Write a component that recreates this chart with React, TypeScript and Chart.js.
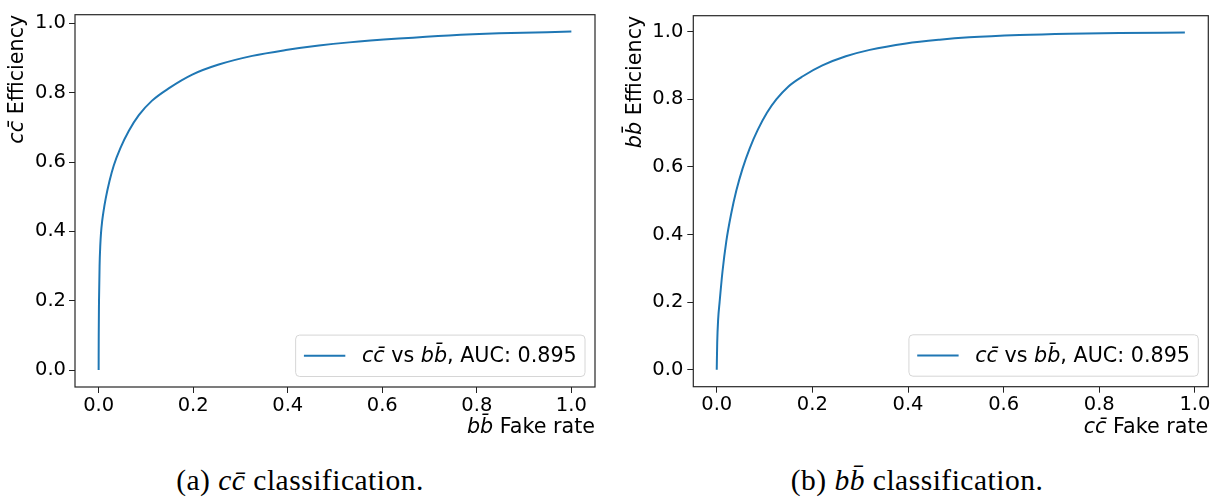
import React, { useEffect, useRef } from 'react';
import { Chart, registerables } from 'chart.js';

Chart.register(...registerables);

const FONT = '"DejaVu Sans", sans-serif';
const FS = 20.7;
const TICK_FS = 19.5;

// Tick values shared by both panels
const tickValues = [0, 0.2, 0.4, 0.6, 0.8, 1.0];

// Panel (a): cc̄ efficiency vs bb̄ fake rate
const bbFakeRate = [0, 0.0002, 0.0008, 0.002, 0.0035, 0.005, 0.0075, 0.01, 0.015, 0.023, 0.032, 0.046, 0.064, 0.085, 0.113, 0.149, 0.198, 0.254, 0.325, 0.396, 0.466, 0.53, 0.635, 0.741, 0.847, 1.0];
const ccEfficiency = [0, 0.1, 0.2, 0.3, 0.36, 0.395, 0.43, 0.455, 0.495, 0.545, 0.59, 0.64, 0.69, 0.735, 0.777, 0.813, 0.852, 0.881, 0.906, 0.923, 0.936, 0.945, 0.956, 0.965, 0.971, 0.976];

// Panel (b): bb̄ efficiency vs cc̄ fake rate
const ccFakeRate = [0, 0.001, 0.003, 0.006, 0.012, 0.02, 0.03, 0.041, 0.054, 0.069, 0.086, 0.105, 0.125, 0.15, 0.18, 0.221, 0.27, 0.32, 0.396, 0.466, 0.528, 0.633, 0.737, 0.842, 0.979];
const bbEfficiency = [0, 0.08, 0.15, 0.2, 0.29, 0.38, 0.46, 0.53, 0.595, 0.655, 0.71, 0.76, 0.8, 0.838, 0.868, 0.9, 0.927, 0.946, 0.965, 0.976, 0.983, 0.99, 0.994, 0.996, 0.997];

type Seg = [string, boolean];
const CC = 'cc\u0304';
const BB = 'bb\u0304';
const legendLabel: Seg[] = [[CC, true], [' vs ', false], [BB, true], [', AUC: 0.895', false]];
const titlesA = { y: [[CC, true], [' Efficiency', false]] as Seg[], x: [[BB, true], [' Fake rate', false]] as Seg[] };
const titlesB = { y: [[BB, true], [' Efficiency', false]] as Seg[], x: [[CC, true], [' Fake rate', false]] as Seg[] };

function segFont(it: boolean, size: number) {
  return `${it ? 'italic ' : ''}${size}px ${FONT}`;
}
function measureRich(ctx: CanvasRenderingContext2D, segs: Seg[], size: number) {
  let w = 0;
  for (const [t, it] of segs) {
    ctx.font = segFont(it, size);
    w += ctx.measureText(t).width;
  }
  return w;
}
function drawRich(ctx: CanvasRenderingContext2D, segs: Seg[], x: number, y: number, size: number) {
  let cx = x;
  for (const [t, it] of segs) {
    ctx.font = segFont(it, size);
    ctx.textAlign = 'left';
    ctx.fillText(t, cx, y);
    cx += ctx.measureText(t).width;
  }
}

const decorPlugin = {
  id: 'decor',
  afterDraw(chart: any, _args: any, opts: any) {
    const ctx: CanvasRenderingContext2D = chart.ctx;
    const a = chart.chartArea;
    ctx.save();
    // frame
    ctx.strokeStyle = '#262626';
    ctx.lineWidth = 1.2;
    ctx.strokeRect(a.left, a.top, a.right - a.left, a.bottom - a.top);

    ctx.fillStyle = '#000';
    ctx.textBaseline = 'alphabetic';
    // x title (right aligned)
    const xw = measureRich(ctx, opts.xTitle, FS);
    drawRich(ctx, opts.xTitle, a.right - xw, opts.xTitleY, FS);
    // y title (rotated, top aligned)
    const yw = measureRich(ctx, opts.yTitle, FS);
    ctx.save();
    ctx.translate(opts.yTitleX, a.top);
    ctx.rotate(-Math.PI / 2);
    drawRich(ctx, opts.yTitle, -yw, 0, FS);
    ctx.restore();

    // legend (lower right)
    const lfs = FS;
    const tw = measureRich(ctx, opts.legend, lfs);
    const pad = 0.4 * lfs;
    const handle = 2 * lfs;
    const htp = 0.8 * lfs;
    const bw = pad + handle + htp + tw + pad;
    const bh = 2.0 * lfs;
    const bx = a.right - 10 - bw;
    const by = a.bottom - 10.5 - bh;
    ctx.beginPath();
    const r = 4;
    ctx.moveTo(bx + r, by);
    ctx.arcTo(bx + bw, by, bx + bw, by + bh, r);
    ctx.arcTo(bx + bw, by + bh, bx, by + bh, r);
    ctx.arcTo(bx, by + bh, bx, by, r);
    ctx.arcTo(bx, by, bx + bw, by, r);
    ctx.closePath();
    ctx.fillStyle = 'rgba(255,255,255,0.8)';
    ctx.fill();
    ctx.strokeStyle = '#d6d6d6';
    ctx.lineWidth = 1;
    ctx.stroke();
    const cy = by + bh / 2;
    ctx.strokeStyle = chart.data.datasets[0].borderColor;
    ctx.lineWidth = 2;
    ctx.beginPath();
    ctx.moveTo(bx + pad, cy);
    ctx.lineTo(bx + pad + handle, cy);
    ctx.stroke();
    ctx.fillStyle = '#000';
    ctx.textBaseline = 'middle';
    drawRich(ctx, opts.legend, bx + pad + handle + htp, cy + 1, lfs);
    ctx.restore();
  },
};

type Panel = {
  xs: number[];
  ys: number[];
  xMin: number; xMax: number; yMin: number; yMax: number;
  top: number; padRight: number; yAxisW: number; xAxisH: number;
  titles: { x: Seg[]; y: Seg[] };
  yTitleX: number;
  xTitleY: number;
  yTickPad: number;
};

function makeChart(canvas: HTMLCanvasElement, p: Panel) {
  const tickFont = { family: FONT, size: TICK_FS };
  const fmt = (v: any) => Number(v).toFixed(1);
  return new Chart(canvas, {
    type: 'line',
    data: {
      datasets: [{
        data: p.xs.map((x, i) => ({ x, y: p.ys[i] })),
        borderColor: '#1f77b4',
        borderWidth: 2,
        pointRadius: 0,
        fill: false,
        cubicInterpolationMode: 'monotone',
      }],
    },
    options: {
      animation: false,
      responsive: false,
      devicePixelRatio: 1,
      layout: { padding: { left: 0, top: p.top, right: p.padRight, bottom: 0 } },
      plugins: {
        legend: { display: false },
        tooltip: { enabled: false },
        decor: { xTitle: p.titles.x, yTitle: p.titles.y, legend: legendLabel, yTitleX: p.yTitleX, xTitleY: p.xTitleY },
      } as any,
      scales: {
        x: {
          type: 'linear',
          min: p.xMin,
          max: p.xMax,
          afterBuildTicks: (s: any) => { s.ticks = tickValues.map((v) => ({ value: v })); },
          afterFit: (s: any) => { s.height = p.xAxisH; },
          grid: { drawOnChartArea: false, tickLength: 6, tickColor: '#222', tickWidth: 1 },
          border: { display: false },
          ticks: { color: '#000', font: tickFont, padding: 1, maxRotation: 0, autoSkip: false, callback: fmt },
        },
        y: {
          type: 'linear',
          min: p.yMin,
          max: p.yMax,
          afterBuildTicks: (s: any) => { s.ticks = tickValues.map((v) => ({ value: v })); },
          afterFit: (s: any) => { s.width = p.yAxisW; },
          grid: { drawOnChartArea: false, tickLength: 6, tickColor: '#222', tickWidth: 1 },
          border: { display: false },
          ticks: { color: '#000', font: tickFont, padding: p.yTickPad, autoSkip: false, callback: fmt },
        },
      },
    } as any,
    plugins: [decorPlugin],
  });
}

const H = 445;
const panelA: Panel = {
  xs: bbFakeRate, ys: ccEfficiency,
  xMin: -0.05, xMax: 1.05, yMin: -0.0488, yMax: 1.0248,
  top: 7, padRight: 15, yAxisW: 75, xAxisH: H - 387,
  titles: titlesA, yTitleX: 23, xTitleY: 433, yTickPad: 3,
};
const panelB: Panel = {
  xs: ccFakeRate, ys: bbEfficiency,
  xMin: -0.049, xMax: 1.028, yMin: -0.0499, yMax: 1.047,
  top: 10, padRight: 15.7, yAxisW: 81.3, xAxisH: H - 386.7,
  titles: titlesB, yTitleX: 29, xTitleY: 433, yTickPad: 4,
};

function ChartPanel({ panel, left, width }: { panel: Panel; left: number; width: number }) {
  const ref = useRef<HTMLCanvasElement>(null);
  useEffect(() => {
    if (!ref.current) return;
    const c = makeChart(ref.current, panel);
    return () => c.destroy();
  }, [panel]);
  return (
    <canvas
      ref={ref}
      width={width}
      height={H}
      style={{ position: 'absolute', left, top: 0, width, height: H }}
    />
  );
}

const captionStyle: React.CSSProperties = {
  position: 'absolute',
  top: 465,
  width: 400,
  textAlign: 'center',
  fontFamily: '"Liberation Serif", serif',
  fontSize: 29.5,
  lineHeight: '30px',
  letterSpacing: '0.5px',
  color: '#000',
  whiteSpace: 'nowrap',
};

export default function App() {
  return (
    <div style={{ position: 'absolute', left: 0, top: 0, width: 1226, height: 500, background: '#fff', overflow: 'hidden' }}>
      <ChartPanel panel={panelA} left={0} width={610} />
      <ChartPanel panel={panelB} left={612} width={612} />
      <div style={{ ...captionStyle, left: 100 }}>
        (a) <span style={{ fontStyle: 'italic' }}>{CC}</span> classification.
      </div>
      <div style={{ ...captionStyle, left: 717 }}>
        (b) <span style={{ fontStyle: 'italic' }}>{BB}</span> classification.
      </div>
    </div>
  );
}
